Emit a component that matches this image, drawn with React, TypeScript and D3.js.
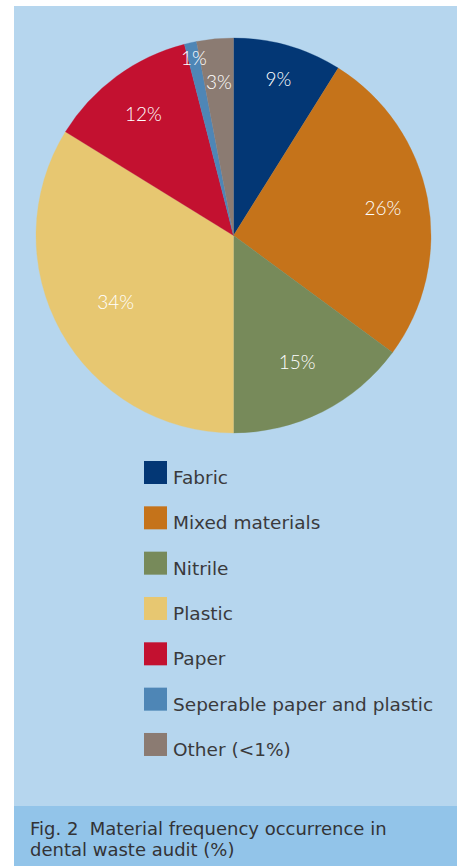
import React from "react";
import * as d3 from "d3";

const categories = [
  "Fabric",
  "Mixed materials",
  "Nitrile",
  "Plastic",
  "Paper",
  "Seperable paper and plastic",
  "Other (<1%)",
];
const values = [8.9, 26.2, 14.9, 33.8, 12.2, 1.0, 3.0];
const sliceLabels = ["9%", "26%", "15%", "34%", "12%", "1%", "3%"];
const colors = ["#033775", "#c5731a", "#778a5a", "#e7c771", "#c31130", "#4e86b6", "#8b7b72"];
const captionLines = ["Fig. 2  Material frequency occurrence in", "dental waste audit (%)"];

// label radial placement (styling)
const labelRadii = [163, 152, 141, 135, 152, 182, 155];

const W = 459;
const H = 866;

export default function App() {
  const cx = 233.5;
  const cy = 235.5;
  const R = 197.5;
  const pie = d3.pie<number>().value((d) => d).sort(null);
  const arcs = pie(values);
  const arcGen = d3.arc<d3.PieArcDatum<number>>().innerRadius(0).outerRadius(R);

  const legendY = d3
    .scaleBand<string>()
    .domain(categories)
    .range([461, 461 + 45.33 * categories.length])
    .paddingInner(0);

  return (
    <svg
      width={W}
      height={H}
      style={{ position: "absolute", left: 0, top: 0, display: "block" }}
    >
      <rect x={0} y={0} width={W} height={H} fill="#ffffff" />
      <rect x={14} y={6} width={443} height={800} fill="#b6d6ee" />
      <rect x={14} y={806} width={443} height={60} fill="#92c4e9" />
      <g transform={`translate(${cx},${cy})`}>
        {arcs.map((a, i) => (
          <path key={i} d={arcGen(a) || ""} fill={colors[i]} stroke={colors[i]} strokeWidth={0.3} />
        ))}
        {arcs.map((a, i) => {
          const mid = (a.startAngle + a.endAngle) / 2;
          const r = labelRadii[i];
          const x = Math.sin(mid) * r;
          const y = -Math.cos(mid) * r;
          return (
            <text
              key={"l" + i}
              x={x}
              y={y}
              textAnchor="middle"
              dominantBaseline="central"
              fill="#ffffff"
              fontFamily="Lato, 'DejaVu Sans', sans-serif"
              fontWeight={300}
              fontSize={19}
            >
              {sliceLabels[i]}
            </text>
          );
        })}
      </g>
      <g>
        {categories.map((c, i) => {
          const y = legendY(c) as number;
          return (
            <g key={c}>
              <rect x={144} y={y} width={23} height={23} fill={colors[i]} />
              <text
                x={173}
                y={y + 23}
                fill="#3a3a3c"
                fontFamily="'DejaVu Sans', sans-serif"
                fontSize={18.5}
              >
                {c}
              </text>
            </g>
          );
        })}
      </g>
      {captionLines.map((t, i) => (
        <text
          key={t}
          x={30}
          y={835 + i * 21}
          fill="#333336"
          fontFamily="'DejaVu Sans', sans-serif"
          fontSize={18}
          style={{ whiteSpace: "pre" }}
        >
          {t}
        </text>
      ))}
    </svg>
  );
}
